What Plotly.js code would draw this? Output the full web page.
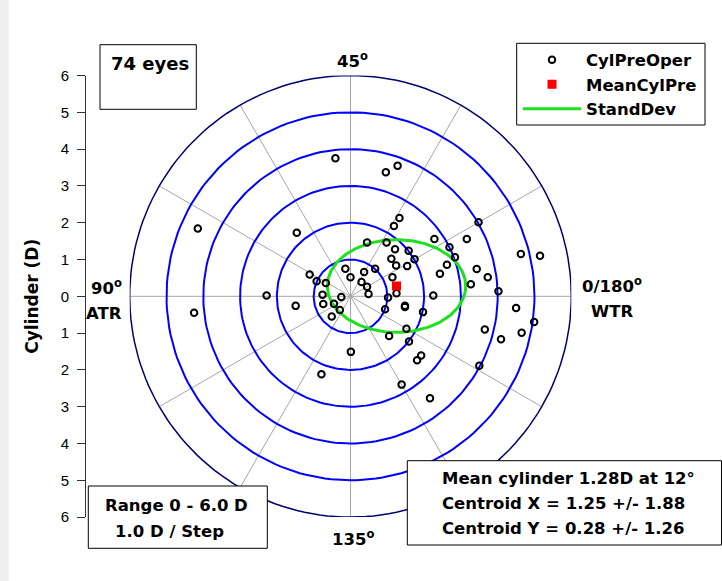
<!DOCTYPE html>
<html>
<head>
<meta charset="utf-8">
<script src="https://cdn.plot.ly/plotly-3.0.1.min.js"></script>
<style>html,body{margin:0;padding:0;background:#fff;}#chart{width:722px;height:581px;}</style>
</head>
<body>
<div id="chart"></div>
<script>
// ---- data (double-angle cylinder plot, diopters) ----
const cylX = [-0.41,1.28,0.96,1.33,1.18,-1.46,0.45,0.98,1.21,1.58,2.28,3.16,2.69,2.84,2.62,2.43,3.43,1.74,1.11,1.24,
  1.54,1.14,0.67,0.37,0.00,-0.14,0.30,0.45,0.49,1.02,1.25,2.25,-0.25,-0.76,-0.67,-0.92,-1.11,-2.28,-1.49,-0.74,
  -0.45,-0.29,-0.51,0.94,1.48,1.48,1.97,1.52,1.05,1.59,0.01,1.92,1.81,-0.79,1.39,2.16,3.50,3.48,3.73,3.27,
  4.02,4.63,5.15,4.50,4.99,3.65,4.65,4.09,-4.15,-4.25];
const cylY = [3.75,3.55,3.37,2.13,1.91,1.73,1.46,1.46,1.28,1.24,1.56,1.56,1.33,1.06,0.86,0.61,0.74,1.01,1.02,0.84,
  0.82,0.52,0.75,0.66,0.52,0.75,0.39,0.26,0.06,-0.03,0.08,0.02,-0.02,0.04,0.36,0.41,0.59,0.02,-0.26,-0.21,
  -0.20,-0.37,-0.55,-0.35,-0.26,-0.29,-0.43,-0.88,-1.08,-1.23,-1.51,-1.61,-1.74,-2.12,-2.40,-2.77,-1.89,2.01,0.52,0.33,
  0.14,1.15,1.10,-0.32,-0.70,-0.90,-0.99,-1.17,1.84,-0.45];
const meanX = [1.25];
const meanY = [0.28];
const sdX = 1.88;
const sdY = 1.26;
const ringRadii = [1,2,3,4,5,6];
const spokeAngles = [0,30,60,90,120,150,180,210,240,270,300,330];
const tickVals = [-6,-5,-4,-3,-2,-1,0,1,2,3,4,5,6];
const tickText = ['6','5','4','3','2','1','0','1','2','3','4','5','6'];
const statLines = ['Mean cylinder 1.28D at 12°','Centroid X = 1.25 +/- 1.88','Centroid Y = 0.28 +/- 1.26'];
const rangeLines = ['Range 0 - 6.0 D','1.0 D / Step'];

// ---- geometry helpers ----
const W = 722, H = 581;
const px = v => v / W;
const py = v => 1 - v / H;
const BOLD = {family:'DejaVu Sans', size:16.5, weight:'bold', color:'#000'};

const traces = [];
// spokes
const sx = [], sy = [];
const rMax = ringRadii[ringRadii.length-1];
spokeAngles.forEach(a => {
  const t = a*Math.PI/180;
  sx.push(0, rMax*Math.cos(t), null); sy.push(0, rMax*Math.sin(t), null);
});
traces.push({type:'scatter', mode:'lines', x:sx, y:sy, line:{color:'#a6a6a6', width:1}, showlegend:false, hoverinfo:'skip'});
// rings
ringRadii.forEach((r,i) => {
  const xs=[], ys=[];
  for (let k=0;k<=360;k+=2){const t=k*Math.PI/180; xs.push(r*Math.cos(t)); ys.push(r*Math.sin(t));}
  const outer = i === ringRadii.length-1;
  traces.push({type:'scatter', mode:'lines', x:xs, y:ys,
    line:{color: outer ? '#000070' : '#0000ff', width: outer ? 1.5 : 2}, showlegend:false, hoverinfo:'skip'});
});
// SD ellipse
const ex=[], ey=[];
for (let k=0;k<=360;k+=2){const t=k*Math.PI/180; ex.push(meanX[0]+sdX*Math.cos(t)); ey.push(meanY[0]+sdY*Math.sin(t));}
traces.push({type:'scatter', mode:'lines', x:ex, y:ey, name:'StandDev', legendrank:3,
  line:{color:'#1ee01e', width:3}});
// points
traces.push({type:'scatter', mode:'markers', x:cylX, y:cylY, name:'CylPreOper', legendrank:1,
  marker:{symbol:'circle-open', size:6.5, color:'#000', line:{width:2}}});
// mean
traces.push({type:'scatter', mode:'markers', x:meanX, y:meanY, name:'MeanCylPre', legendrank:2,
  marker:{symbol:'square', size:9, color:'#ff0000'}});

const ann = [];
function txt(t, x, y, xa, font){ ann.push({xref:'paper', yref:'paper', x:px(x), y:py(y), xanchor:xa, yanchor:'middle', text:t, showarrow:false, font:font||BOLD}); }
txt('74 eyes', 109, 64, 'left', {family:'DejaVu Sans', size:18, weight:'bold', color:'#000'});
txt('45<sup>o</sup>', 352, 60, 'center');
txt('135<sup>o</sup>', 353, 538, 'center');
txt('90<sup>o</sup>', 106, 287, 'center');
txt('ATR', 104, 313, 'center');
txt('0/180<sup>o</sup>', 612, 285, 'center');
txt('WTR', 612, 311, 'center');
statLines.forEach((s,i) => txt(s, 440, 478.5 + 25*i, 'left'));
txt(rangeLines[0], 102.7, 505, 'left');
txt(rangeLines[1], 113.3, 531.5, 'left');

function box(x0,y0,x1,y1){ return {type:'rect', xref:'paper', yref:'paper', x0:px(x0), x1:px(x1), y0:py(y1), y1:py(y0), layer:'above', fillcolor:'#fff', line:{color:'#000', width:1}}; }
const shapes = [
  {type:'rect', xref:'paper', yref:'paper', x0:0, x1:px(9), y0:0, y1:1, layer:'below', fillcolor:'#efefef', line:{width:0}},
  box(100,44.7,196.3,109.3),
  box(516.7,43.3,705,125),
  box(407.3,460.7,721.5,545),
  box(88.3,486,267.3,548.3)
];

const layout = {
  width:W, height:H, margin:{l:0,r:0,t:0,b:0},
  paper_bgcolor:'#fff', plot_bgcolor:'rgba(0,0,0,0)',
  xaxis:{domain:[px(129.7), px(571.3)], range:[-6,6], visible:false, fixedrange:true},
  yaxis:{domain:[py(517.1), py(75.5)], range:[-6,6], anchor:'free', position:px(85),
    showline:true, linecolor:'#333', linewidth:1, ticks:'outside', ticklen:8, tickcolor:'#333', tickwidth:1,
    tickvals:tickVals, ticktext:tickText, showgrid:false, zeroline:false, ticklabelstandoff:5,
    tickfont:{family:'Liberation Sans', size:15, color:'#000'},
    title:{text:'Cylinder (D)', standoff:16, font:{family:'DejaVu Sans', size:17, weight:'bold', color:'#000'}}},
  showlegend:true,
  legend:{x:px(518), y:py(42.5), xanchor:'left', yanchor:'top', bgcolor:'rgba(0,0,0,0)', borderwidth:0,
    itemwidth:58, font:{family:'DejaVu Sans', size:16.5, weight:'bold', color:'#000'}},
  annotations:ann, shapes:shapes
};
Plotly.newPlot('chart', traces, layout, {staticPlot:true, displayModeBar:false});
</script>
</body>
</html>
